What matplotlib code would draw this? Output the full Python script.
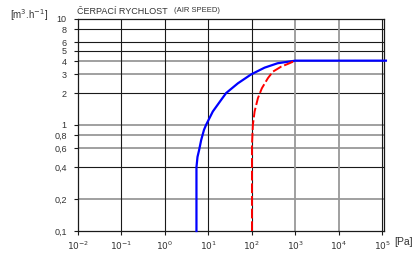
import matplotlib
matplotlib.use("Agg")
import matplotlib.pyplot as plt

plt.rcParams['font.family'] = ['Liberation Sans', 'DejaVu Sans']

# pumping speed curves
blue_x = [5.3, 5.3, 5.6, 6.1, 6.8, 7.9, 8.8, 10, 12.6, 19.5, 25.5, 47.5, 96, 195, 390, 1000, 1.2e5]
blue_y = [0.1, 0.40, 0.50, 0.58, 0.72, 0.90, 1.0, 1.11, 1.34, 1.72, 2.0, 2.47, 3.0, 3.47, 3.82, 4.04, 4.04]
red_x = [100, 100, 105, 115, 137, 169, 232, 302, 470, 665, 1000]
red_y = [0.1, 0.65, 1.0, 1.34, 1.79, 2.22, 2.76, 3.18, 3.55, 3.76, 4.04]

y_ticks = [0.1, 0.2, 0.4, 0.6, 0.8, 1, 2, 3, 4, 5, 6, 8, 10]
y_labels = ["0,1", "0,2", "0,4", "0,6", "0,8", "1", "2", "3", "4", "5", "6", "8", "10"]
x_ticks = [1e-2, 1e-1, 1e0, 1e1, 1e2, 1e3, 1e4, 1e5]
x_labels = [r"$10^{-2}$", r"$10^{-1}$", r"$10^{0}$", r"$10^{1}$",
            r"$10^{2}$", r"$10^{3}$", r"$10^{4}$", r"$10^{5}$"]

# which grid lines look grey/thick in the original
gray_y = [0.2, 0.6, 0.8, 1, 3, 4]
gray_x = [1e3, 1e4]

fig = plt.figure(figsize=(4.19, 2.59), dpi=100)
ax = fig.add_axes([0.186, 0.108, 0.731, 0.819])
ax.set_xscale("log")
ax.set_yscale("log")
ax.set_xlim(1e-2, 10 ** 5.04)
ax.set_ylim(0.1, 10)

for yv in y_ticks[1:-1]:
    if yv in gray_y:
        ax.axhline(yv, color="#999999", lw=1.3, zorder=1)
    else:
        ax.axhline(yv, color="#1a1a1a", lw=0.8, zorder=1)
for xv in x_ticks[1:]:
    if xv in gray_x:
        ax.axvline(xv, color="#999999", lw=1.3, zorder=1)
    else:
        ax.axvline(xv, color="#1a1a1a", lw=0.8, zorder=1)

ax.plot(blue_x, blue_y, color="#0000ff", lw=1.6, zorder=3, clip_on=False)
ax.plot(red_x, red_y, color="#ff0000", lw=1.4, dashes=(5, 1.5), zorder=4)

ax.set_yticks(y_ticks)
ax.set_yticklabels(y_labels)
ax.set_xticks(x_ticks)
ax.set_xticklabels(x_labels)
ax.minorticks_off()
ax.tick_params(axis="both", length=3, width=0.8, colors="#1a1a1a",
               labelsize=6.5, labelcolor="#333333")
ax.tick_params(axis="y", pad=5)
ax.tick_params(axis="x", pad=3)

for s in ax.spines.values():
    s.set_color("#1a1a1a")
    s.set_linewidth(0.9)

fig.text(0.183, 0.945, "ČERPACÍ RYCHLOST", fontsize=6.5, color="#333333")
fig.text(0.415, 0.955, "(AIR SPEED)", fontsize=5.5, color="#333333")
fig.text(0.025, 0.925, r"[m$^3$.h$^{-1}$]", fontsize=7, color="#333333")
fig.text(0.942, 0.055, "[Pa]", fontsize=7.5, color="#333333")

fig.savefig("out.png", dpi=100)
